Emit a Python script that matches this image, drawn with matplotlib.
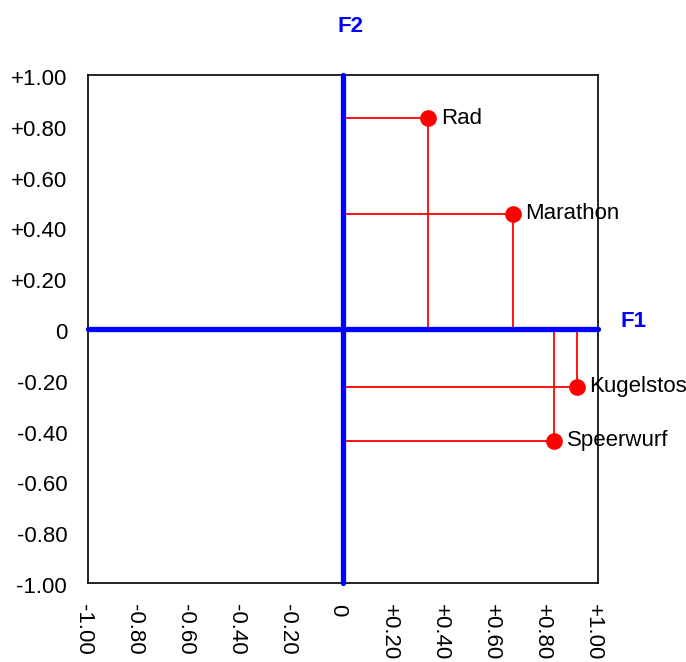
import numpy as np
import matplotlib.pyplot as plt
import matplotlib.transforms as mtransforms

plt.rcParams['font.family'] = ['Liberation Sans', 'DejaVu Sans']

# loadings on F1 / F2
names = ["Rad", "Marathon", "Kugelstos", "Speerwurf"]
f1 = [0.335, 0.665, 0.916, 0.829]
f2 = [0.830, 0.453, -0.227, -0.440]

ticks = [-1.0, -0.8, -0.6, -0.4, -0.2, 0.0, 0.2, 0.4, 0.6, 0.8, 1.0]
tick_labels = ["-1.00", "-0.80", "-0.60", "-0.40", "-0.20", "0",
               "+0.20", "+0.40", "+0.60", "+0.80", "+1.00"]

fs = 16

fig = plt.figure(figsize=(6.86, 6.62), dpi=100)
ax = fig.add_axes([0.1283, 0.1193, 0.7434, 0.7674])
ax.set_xlim(-1, 1)
ax.set_ylim(-1, 1)

# drop lines to the axes
for x, y in zip(f1, f2):
    ax.plot([0, x], [y, y], color='red', lw=1.3, zorder=2)
    ax.plot([x, x], [0, y], color='red', lw=1.3, zorder=2)

# factor axes
ax.plot([-1, 1], [0, 0], color='blue', lw=3.8, solid_capstyle='round', zorder=3, clip_on=False)
ax.plot([0, 0], [-1, 1], color='blue', lw=3.8, solid_capstyle='round', zorder=3, clip_on=False)

ax.plot(f1, f2, 'o', color='red', ms=11, zorder=4, clip_on=False)
for x, y, n in zip(f1, f2, names):
    ax.annotate(n, (x, y), xytext=(9, 0), textcoords='offset points',
                va='center', ha='left', fontsize=fs, zorder=5, annotation_clip=False)

ax.text(1.14, 0.03, "F1", color='blue', fontweight='bold', fontsize=fs,
        ha='center', va='center', clip_on=False)
ax.text(0.03, 1.19, "F2", color='blue', fontweight='bold', fontsize=fs,
        ha='center', va='center', clip_on=False)

ax.set_xticks(ticks)
ax.set_xticklabels(tick_labels, rotation=270, fontsize=fs)
ax.set_yticks(ticks)
ax.set_yticklabels(tick_labels, fontsize=fs)
ax.tick_params(length=0, pad=15)
off = mtransforms.ScaledTranslation(-5 / 100, 0, fig.dpi_scale_trans)
for lab in ax.get_xticklabels():
    lab.set_transform(lab.get_transform() + off)
off_y = mtransforms.ScaledTranslation(0, -2 / 100, fig.dpi_scale_trans)
for lab in ax.get_yticklabels():
    lab.set_transform(lab.get_transform() + off_y)

for s in ax.spines.values():
    s.set_linewidth(1.2)

fig.savefig('out.png', dpi=100)
